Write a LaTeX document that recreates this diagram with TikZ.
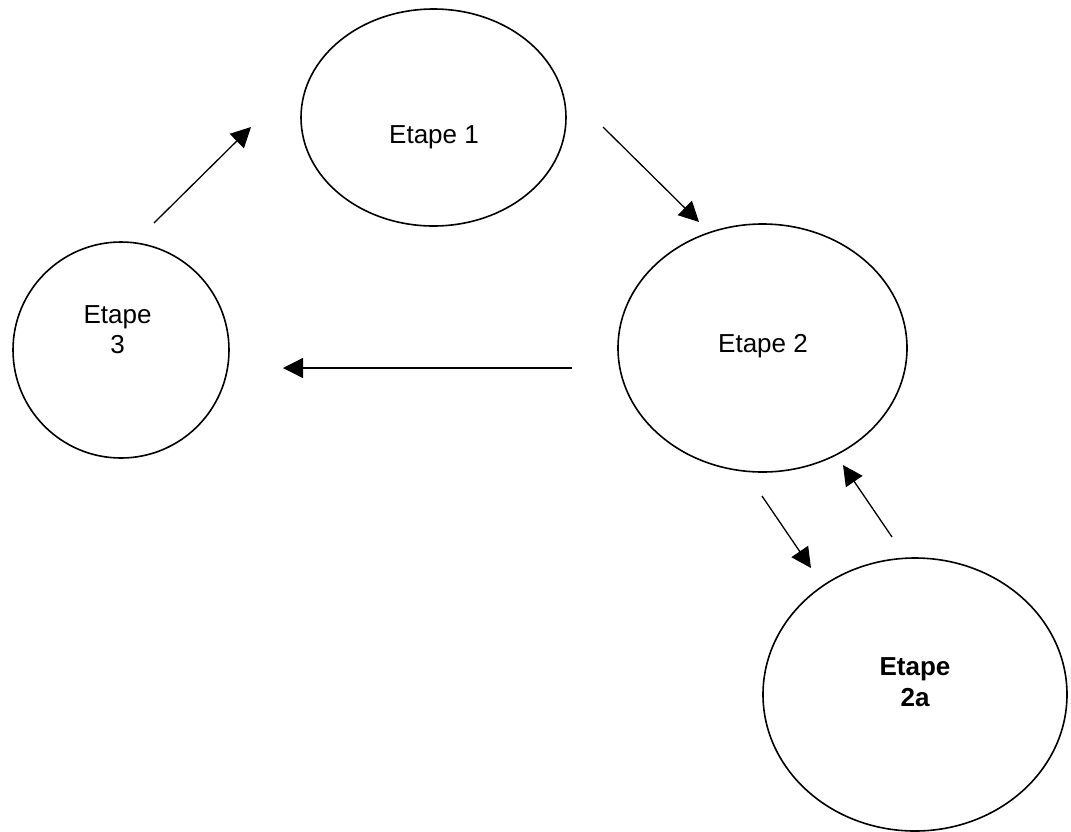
\documentclass[tikz,border=0pt]{standalone}
\usepackage{fontspec}
\setmainfont{Liberation Sans}
\usetikzlibrary{shapes.geometric,arrows.meta}
\begin{document}
\begin{tikzpicture}[x=1pt,y=-1pt,
  etat/.style={draw,ellipse,line width=1.6pt,inner sep=0pt},
  lbl/.style={inner sep=0pt,align=center,font=\fontsize{26}{30}\selectfont},
  fleche/.style={line width=1.3pt,-{Triangle[length=20pt,width=20pt]}}]
\useasboundingbox (0,0) rectangle (1071,831);
\node[etat,minimum width=265pt,minimum height=217pt] (e1) at (433.5,117.5) {};
\node[lbl,anchor=base] (t1) at (434,143) {Etape 1};
\node[etat,minimum width=216pt,minimum height=216pt] (e3) at (121,350) {};
\node[lbl,anchor=base] (t3) at (117.5,353) {Etape\\3};
\node[etat,minimum width=289pt,minimum height=248pt] (e2) at (762.5,348) {};
\node[lbl,anchor=base] (t2) at (763,352) {Etape 2};
\node[etat,minimum width=304pt,minimum height=273pt] (e2a) at (915,694.5) {};
\node[lbl,anchor=base,font=\bfseries\fontsize{26}{31}\selectfont] (t2a) at (915,706) {Etape\\2a};
\coordinate (a1s) at (154,223); \coordinate (a1e) at (251,127);
\coordinate (a2s) at (603,127); \coordinate (a2e) at (699,222);
\coordinate (a3s) at (572,368); \coordinate (a3e) at (283,368);
\coordinate (a4s) at (762,496); \coordinate (a4e) at (811,568);
\coordinate (a5s) at (892,537); \coordinate (a5e) at (843,465);
\draw[fleche] (a1s) -- (a1e);
\draw[fleche] (a2s) -- (a2e);
\draw[fleche] (a3s) -- (a3e);
\draw[fleche] (a4s) -- (a4e);
\draw[fleche] (a5s) -- (a5e);
\end{tikzpicture}
\end{document}
